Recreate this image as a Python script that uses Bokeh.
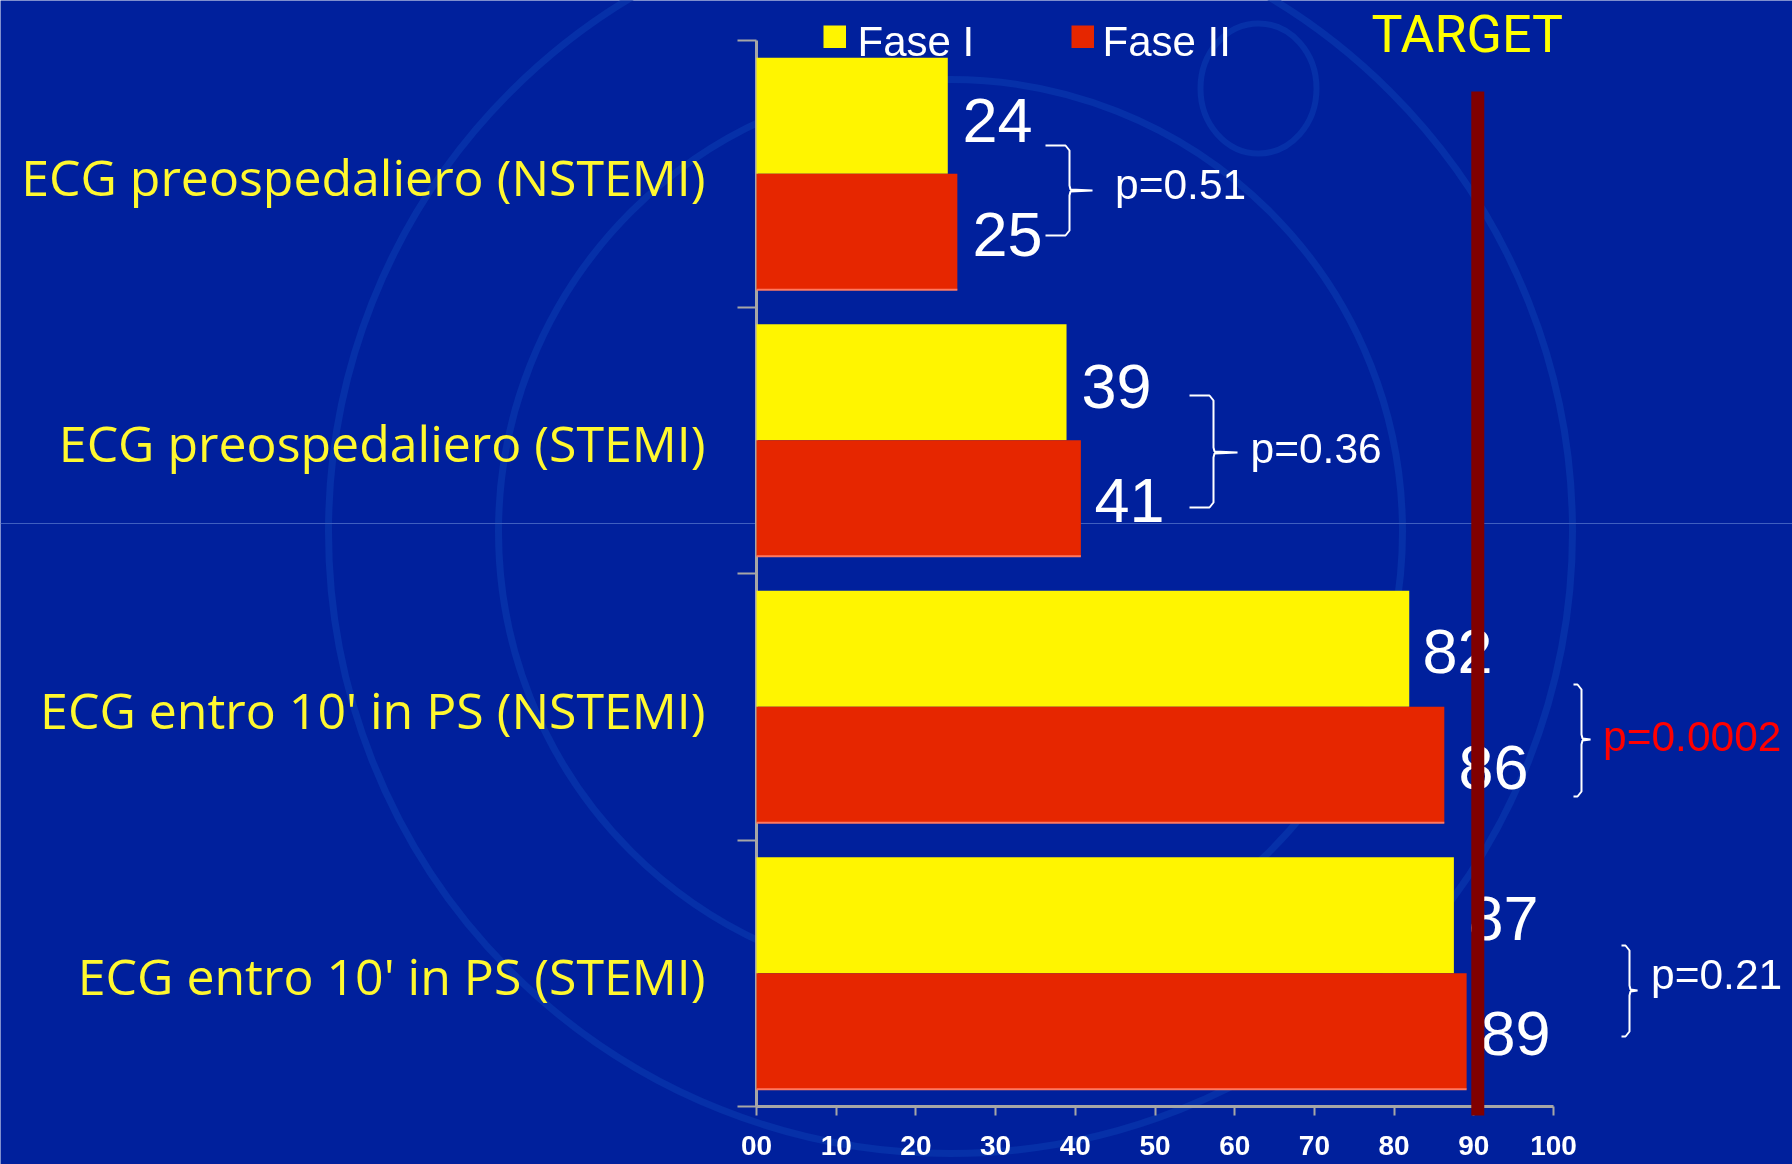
from bokeh.plotting import figure
from bokeh.models import Range1d, FixedTicker, InlineStyleSheet
from bokeh.core.properties import value
from bokeh.embed import file_html
from bokeh.resources import INLINE
import numpy as np

categories = ["ECG preospedaliero (NSTEMI)", "ECG preospedaliero (STEMI)",
              "ECG entro 10' in PS (NSTEMI)", "ECG entro 10' in PS (STEMI)"]
fase1 = [24.0, 38.9, 81.9, 87.5]
fase2 = [25.2, 40.7, 86.3, 89.1]
labels1 = ["24", "39", "82", "87"]
labels2 = ["25", "41", "86", "89"]
p_values = ["p=0.51", "p=0.36", "p=0.0002", "p=0.21"]
x_ticks = list(range(0, 101, 10))
x_tick_labels = ["00", "10", "20", "30", "40", "50", "60", "70", "80", "90", "100"]
target = 90.5

W, H = 1792, 1164
BG = "#00209C"
X0, X100 = 756.0, 1553.0
YT0, YSTEP = 40.0, 266.5
ppu = (X100 - X0) / 100

p = figure(width=W, height=H, output_backend="svg", toolbar_location=None,
           min_border=0, background_fill_color=BG, border_fill_color=BG,
           outline_line_color=None,
           x_range=Range1d(-X0 / ppu, (W - X0) / ppu),
           y_range=Range1d((H - YT0) / YSTEP, -YT0 / YSTEP))
p.extra_x_ranges = {"px": Range1d(0, W)}
p.extra_y_ranges = {"px": Range1d(H, 0)}
p.stylesheets = [InlineStyleSheet(css=":host{position:fixed !important;left:0;top:0}")]
p.grid.visible = False
PX = dict(x_range_name="px", y_range_name="px")

def base(ys, size):
    return [y - 0.38 * size for y in ys]

# watermark
for r, w in [(622, 7), (452, 7)]:
    p.ellipse([950], [531], width=[2 * r], height=[2 * r], fill_color=None,
              line_color="#0630A8", line_width=w, level="image", **PX)
p.ellipse([1258], [88], width=[116], height=[130], fill_color=None,
          line_color="#0630A8", line_width=6, level="image", **PX)

# thin slide line
p.line([0, W], [523, 523], line_color="#3F5FBF", line_width=1, level="underlay", **PX)

# axes
xa = p.xaxis[0]
xa.fixed_location = 4
xa.bounds = (0, 100)
xa.ticker = FixedTicker(ticks=x_ticks)
xa.major_label_overrides = dict(zip(x_ticks, x_tick_labels))
xa.minor_tick_line_color = None
xa.major_tick_in = 0
xa.major_tick_out = 9
xa.major_label_standoff = 20
xa.major_label_text_color = "white"
xa.major_label_text_font = "Liberation Sans"
xa.major_label_text_font_size = "28px"
xa.major_label_text_font_style = "bold"
xa.axis_line_color = "#A6A6A6"
xa.axis_line_width = 3
xa.major_tick_line_color = "#A6A6A6"
xa.major_tick_line_width = 2
xa.level = "underlay"

ya = p.yaxis[0]
ya.fixed_location = 0
ya.bounds = (0, 4)
ya.ticker = FixedTicker(ticks=[0, 1, 2, 3, 4])
ya.major_label_overrides = {i: "" for i in range(5)}
ya.minor_tick_line_color = None
ya.major_tick_in = 0
ya.major_tick_out = 19
ya.axis_line_color = "#A6A6A6"
ya.axis_line_width = 3
ya.major_tick_line_color = "#A6A6A6"
ya.major_tick_line_width = 2
ya.level = "underlay"

# bars
pos = np.arange(4)
h = 0.4355
p.hbar(y=pos + 0.5 - h / 2, left=0, right=fase1, height=h, fill_color="#FFF500", line_color=None)
p.hbar(y=pos + 0.5 + h / 2, left=0, right=fase2, height=h, fill_color="#E62600", line_color=None)
p.segment(x0=0, x1=fase2, y0=pos + 0.5 + h, y1=pos + 0.5 + h, line_color="#FF7860", line_width=2)

# category labels
cat_base = [195, 461, 728, 994]
p.text([705] * 4, base(cat_base, 50), text=categories, text_align="right", text_baseline="alphabetic",
       text_color="#FFF82F", text_font=value("Open Sans"), text_font_size="50px", **PX)

# value labels
NUM = dict(text_color="white", text_font=value("Liberation Sans"), text_font_size="63px",
           text_align="left", text_baseline="alphabetic")
p.text([962, 1081, 1422, 1468], base([143.5, 410, 675, 942], 63), text=labels1, **NUM, **PX)
p.text([972, 1094, 1458, 1480], base([258, 524, 791, 1057], 63), text=labels2, **NUM, **PX)

# p values
p.text([1114.5, 1250, 1602.5, 1650.5], base([200, 464, 752, 990], 42.5), text=p_values,
       text_color=["white", "white", "#FF0000", "white"],
       text_font=value("Liberation Sans"), text_font_size="42.5px",
       text_align="left", text_baseline="alphabetic", **PX)

# braces
def brace(xl, xv, xt, yt, ym, yb):
    xs = np.array([xl, xv - 4, xv, xv, xv + 1, xt, xv + 1, xv, xv, xv - 4, xl], dtype=float)
    ys = np.array([yt, yt, yt + 5, ym - 5, ym - 1, ym, ym + 1, ym + 5, yb - 5, yb, yb], dtype=float)
    return xs, ys
for b in [(1045, 1069, 1092, 145, 190, 235), (1189, 1213, 1237, 395, 452, 507),
          (1573, 1581, 1590, 684, 739, 796), (1621, 1629, 1637, 945, 990, 1036)]:
    xs, ys = brace(*b)
    p.line(xs, ys, line_color="white", line_width=2, **PX)

# legend
p.quad(left=[823, 1071], right=[845.5, 1093.5], top=[25, 25], bottom=[47.5, 47.5],
       fill_color=["#FFF500", "#E62600"], line_color=None, **PX)
p.text([857, 1102], base([57, 57], 42), text=["Fase I", "Fase II"], text_color="white",
       text_font=value("Liberation Sans"), text_font_size="42px",
       text_align="left", text_baseline="alphabetic", **PX)

# target
p.segment(x0=[target], x1=[target], y0=[(91 - YT0) / YSTEP], y1=[(1115 - YT0) / YSTEP],
          line_color="#800000", line_width=13)
p.text([1371], base([54], 52), text=["TARGET"], text_color="#FFFF00",
       text_font=value("Roboto"), text_font_size="52px",
       text_align="left", text_baseline="alphabetic", **PX)

open("out.html", "w").write(file_html(p, INLINE))
